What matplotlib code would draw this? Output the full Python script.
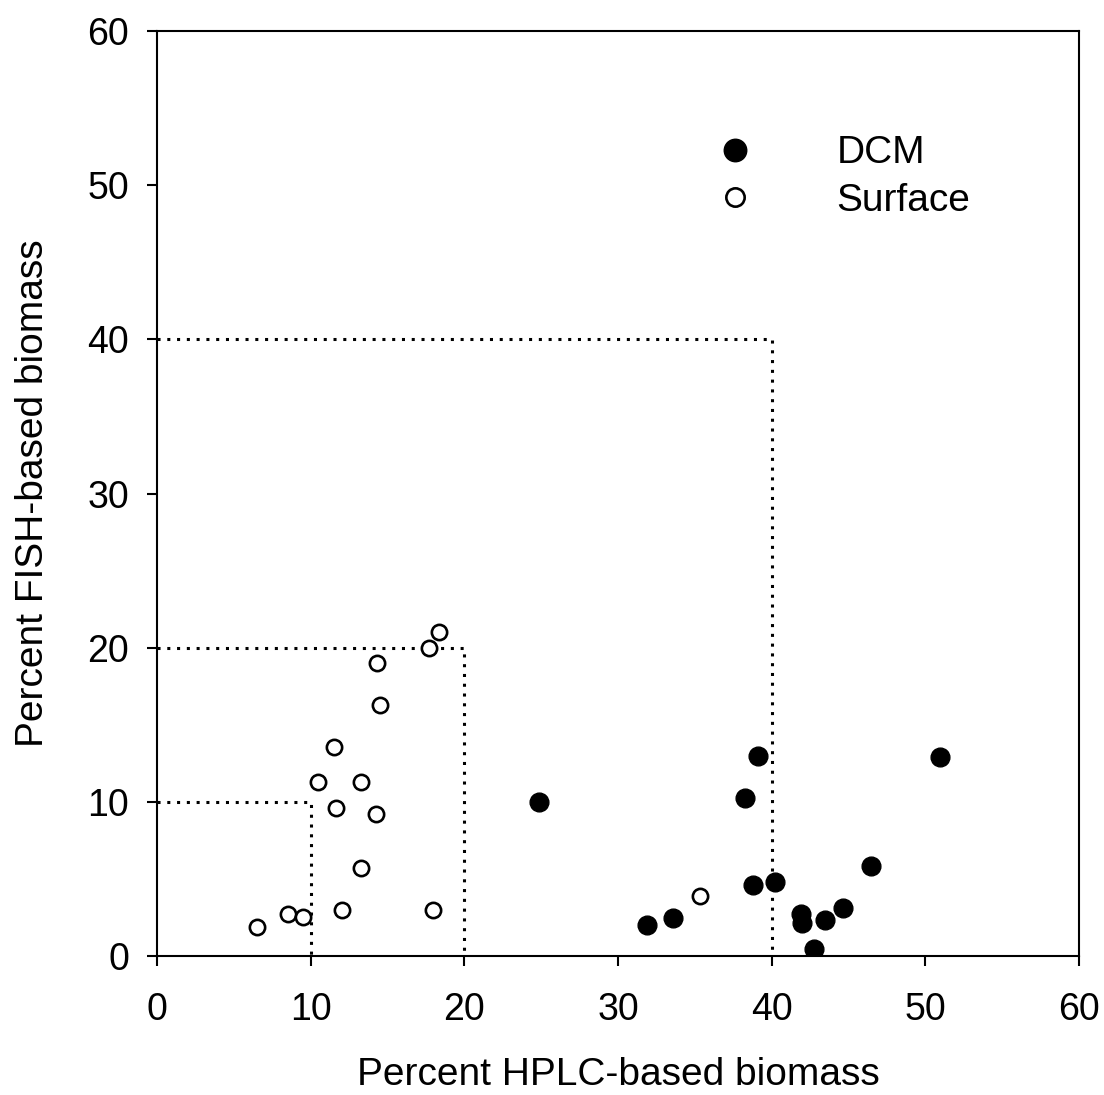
import numpy as np
import matplotlib.pyplot as plt

plt.rcParams['font.family'] = ['Liberation Sans', 'DejaVu Sans']

# DCM samples
dcm_x = [24.83, 31.86, 33.61, 38.80, 40.24, 39.11, 38.25, 41.92, 41.97, 43.48, 44.66, 42.76, 46.43, 50.97]
dcm_y = [10.0, 2.0, 2.5, 4.61, 4.83, 12.98, 10.22, 2.72, 2.15, 2.33, 3.11, 0.48, 5.83, 12.91]

# Surface samples
surf_x = [6.50, 8.51, 9.50, 12.05, 17.95, 13.30, 10.45, 13.26, 11.68, 14.23, 11.53, 14.49, 14.32, 17.69, 18.32, 35.32]
surf_y = [1.90, 2.75, 2.55, 2.97, 2.97, 5.69, 11.30, 11.28, 9.61, 9.20, 13.53, 16.30, 18.98, 19.98, 21.04, 3.87]

# reference boxes (thresholds)
box_levels = [10, 20, 40]

fig = plt.figure(figsize=(11.04, 10.95), dpi=100)
ax = fig.add_axes([0.1422, 0.1269, 0.8352, 0.8448])

for b in box_levels:
    ax.plot([0, b, b], [b, b, 0], color='black', lw=2.2,
            linestyle=(0, (1, 2.2)), zorder=1)

ax.plot(dcm_x, dcm_y, 'o', color='black', ms=13.5, ls='none', label='DCM', zorder=3)
ax.plot(surf_x, surf_y, 'o', mfc='white', mec='black', mew=1.9, ms=11,
        ls='none', label='Surface', zorder=3)

ax.set_xlim(0, 60)
ax.set_ylim(0, 60)
ax.set_xticks(np.arange(0, 61, 10))
ax.set_yticks(np.arange(0, 61, 10))
ax.tick_params(direction='out', length=7, width=1.5, labelsize=27,
               top=False, right=False)
ax.tick_params(axis='x', pad=19)
ax.tick_params(axis='y', pad=13)
for s in ax.spines.values():
    s.set_linewidth(1.5)

ax.set_xlabel('Percent HPLC-based biomass', fontsize=28, labelpad=20.5)
ax.set_ylabel('Percent FISH-based biomass', fontsize=28, labelpad=26)

ax.legend(loc='upper left', bbox_to_anchor=(0.568, 0.925), frameon=False,
          fontsize=28, markerscale=1.2, handletextpad=2.1, labelspacing=0.3,
          handlelength=1.0)

fig.savefig('out.png', dpi=100)
